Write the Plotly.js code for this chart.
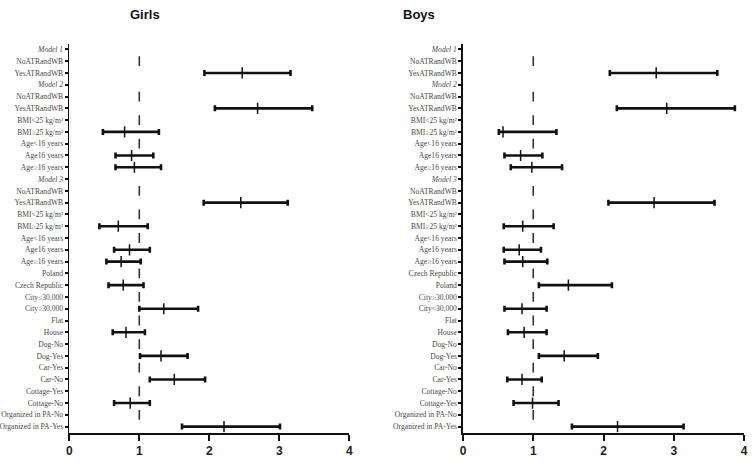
<!DOCTYPE html>
<html>
<head>
<meta charset="utf-8">
<script src="https://cdn.plot.ly/plotly-3.0.1.min.js"></script>
<style>html,body{margin:0;padding:0;background:#fff;}#chart{width:753px;height:470px;}</style>
</head>
<body>
<div id="chart"></div>
<script>
// ---------- data ----------
const girlsLabels = ["<i>Model 1</i>","NoATRandWB","YesATRandWB","<i>Model 2</i>","NoATRandWB","YesATRandWB",
  "BMI&lt;25 kg/m²","BMI≥25 kg/m²","Age&lt;16 years","Age16 years","Age≥16 years",
  "<i>Model 3</i>","NoATRandWB","YesATRandWB","BMI&lt;25 kg/m²","BMI≥25 kg/m²","Age&lt;16 years","Age16 years","Age≥16 years",
  "Poland","Czech Republic","City≤30,000","City≥30,000","Flat","House","Dog-No","Dog-Yes","Car-Yes","Car-No",
  "Cottage-Yes","Cottage-No","Organized in PA-No","Organized in PA-Yes"];
const girlsOR = [null,1,2.47,null,1,2.69,1,0.79,1,0.89,0.93,null,1,2.45,1,0.70,1,0.86,0.74,1,0.77,1,1.35,1,0.81,1,1.31,1,1.50,1,0.87,1,2.21];
const girlsLo = [null,1,1.93,null,1,2.08,1,0.48,1,0.66,0.66,null,1,1.92,1,0.43,1,0.64,0.53,1,0.56,1,1.00,1,0.62,1,1.01,1,1.15,1,0.64,1,1.61];
const girlsHi = [null,1,3.16,null,1,3.47,1,1.28,1,1.20,1.31,null,1,3.12,1,1.12,1,1.15,1.02,1,1.06,1,1.84,1,1.08,1,1.69,1,1.94,1,1.15,1,3.01];

const boysLabels = ["<i>Model 1</i>","NoATRandWB","YesATRandWB","<i>Model 2</i>","NoATRandWB","YesATRandWB",
  "BMI&lt;25 kg/m²","BMI≥25 kg/m²","Age&lt;16 years","Age16 years","Age≥16 years",
  "<i>Model 3</i>","NoATRandWB","YesATRandWB","BMI&lt;25 kg/m²","BMI≥25 kg/m²","Age&lt;16 years","Age16 years","Age≥16 years",
  "Czech Republic","Poland","City≥30,000","City&lt;30,000","Flat","House","Dog-No","Dog-Yes","Car-No","Car-Yes",
  "Cottage-No","Cottage-Yes","Organized in PA-No","Organized in PA-Yes"];
const boysOR = [null,1,2.75,null,1,2.90,1,0.57,1,0.82,0.98,null,1,2.72,1,0.85,1,0.80,0.85,1,1.50,1,0.84,1,0.87,1,1.44,1,0.84,1,0.99,1,2.20];
const boysLo = [null,1,2.09,null,1,2.19,1,0.51,1,0.59,0.68,null,1,2.07,1,0.58,1,0.58,0.59,1,1.08,1,0.59,1,0.64,1,1.08,1,0.63,1,0.72,1,1.55];
const boysHi = [null,1,3.62,null,1,3.87,1,1.33,1,1.13,1.41,null,1,3.58,1,1.29,1,1.11,1.20,1,2.12,1,1.19,1,1.19,1,1.92,1,1.12,1,1.36,1,3.14];

const xTicks = [0,1,2,3,4];

// ---------- build traces ----------
function build(labels, or, lo, hi, xa, ya) {
  const est = {x:[], y:[], plus:[], minus:[]};
  const ref = {x:[], y:[]};
  labels.forEach((l, i) => {
    if (or[i] === null) return;
    if (lo[i] === hi[i]) { ref.x.push(or[i]); ref.y.push(i); }
    else { est.x.push(or[i]); est.y.push(i); est.plus.push(hi[i]-or[i]); est.minus.push(or[i]-lo[i]); }
  });
  return [
    {type:'scatter', mode:'markers', x:est.x, y:est.y, xaxis:xa, yaxis:ya, showlegend:false, hoverinfo:'x',
     marker:{symbol:'line-ns-open', size:8, color:'#111', line:{width:1.5, color:'#111'}},
     error_x:{type:'data', symmetric:false, array:est.plus, arrayminus:est.minus, color:'#111', thickness:2.6, width:3}},
    {type:'scatter', mode:'markers', x:ref.x, y:ref.y, xaxis:xa, yaxis:ya, showlegend:false, hoverinfo:'x',
     marker:{symbol:'line-ns-open', size:7, color:'#333', line:{width:1.6, color:'#333'}}}
  ];
}

const data = [].concat(
  build(girlsLabels, girlsOR, girlsLo, girlsHi, 'x', 'y'),
  build(boysLabels, boysOR, boysLo, boysHi, 'x2', 'y2')
);

const yDomain = [1-432.5/470, 1-43.5/470];
function yAxis(labels, anchor) {
  return {domain:yDomain, anchor:anchor, range:[labels.length-0.5, -0.5],
    tickvals: labels.map((_, i) => i), ticktext: labels,
    showline:true, linecolor:'#111', linewidth:1.6, ticks:'outside', ticklen:3, tickwidth:2, tickcolor:'#111',
    showgrid:false, zeroline:false,
    tickfont:{family:'Liberation Serif, Times New Roman, serif', size:7.6, color:'#4a4a4a'}};
}
function xAxis(domain, anchor) {
  return {domain:domain, anchor:anchor, range:[0,4], tickvals:xTicks, ticktext:xTicks.map(String),
    showline:true, linecolor:'#111', linewidth:2, ticks:'outside', ticklen:6, tickwidth:2, tickcolor:'#111',
    showgrid:false, zeroline:false,
    tickfont:{family:'Liberation Sans Narrow, Liberation Sans, Arial, sans-serif', size:12, color:'#222', weight:'bold'}};
}

const layout = {
  width:753, height:470, margin:{l:0, r:0, t:0, b:0},
  paper_bgcolor:'#fff', plot_bgcolor:'#fff', showlegend:false,
  xaxis: xAxis([69.3/753, 349.3/753], 'y'),
  yaxis: yAxis(girlsLabels, 'x'),
  xaxis2: xAxis([463/753, 744/753], 'y2'),
  yaxis2: yAxis(boysLabels, 'x2'),
  annotations:[
    {text:'Girls', xref:'paper', yref:'paper', x:145/753, y:1-14/470, showarrow:false, xanchor:'center', yanchor:'middle',
     font:{family:'Liberation Sans Narrow, Liberation Sans, Arial, sans-serif', size:13, color:'#111', weight:'bold'}},
    {text:'Boys', xref:'paper', yref:'paper', x:419/753, y:1-14/470, showarrow:false, xanchor:'center', yanchor:'middle',
     font:{family:'Liberation Sans Narrow, Liberation Sans, Arial, sans-serif', size:13, color:'#111', weight:'bold'}}
  ]
};

Plotly.newPlot('chart', data, layout, {displayModeBar:false, staticPlot:true});
</script>
</body>
</html>
